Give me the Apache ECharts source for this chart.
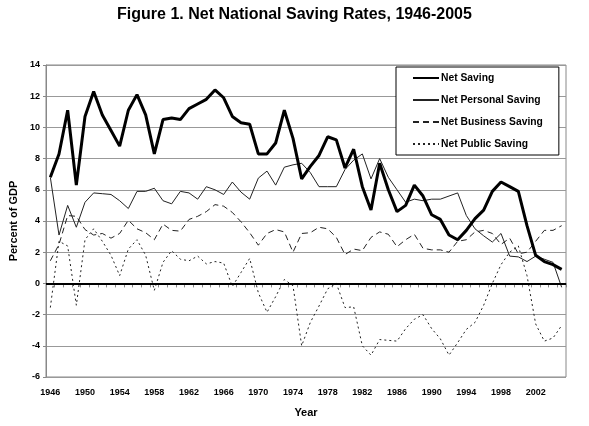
<!DOCTYPE html>
<html>
<head>
<meta charset="utf-8">
<script src="https://cdn.jsdelivr.net/npm/echarts@6/dist/echarts.min.js"></script>
<style>html,body{margin:0;padding:0;background:#fff;}#c{width:589px;height:426px;}</style>
</head>
<body>
<div id="c"></div>
<script>
const years = [];
for (let y = 1946; y <= 2005; y++) years.push(String(y));

const netSaving = [6.8,8.3,11.1,6.3,10.7,12.3,10.8,9.8,8.8,11.1,12.1,10.8,8.3,10.5,10.6,
  10.5,11.2,11.5,11.8,12.4,11.9,10.7,10.3,10.2,8.3,8.3,9.0,11.1,9.3,6.7,
  7.5,8.2,9.4,9.2,7.4,8.6,6.2,4.7,7.7,6.0,4.6,5.0,6.3,5.6,4.4,
  4.1,3.1,2.8,3.4,4.15,4.7,5.9,6.5,6.2,5.9,3.7,1.8,1.4,1.2,0.9];
const personal = [6.8,3.1,5.0,3.6,5.2,5.8,5.75,5.7,5.3,4.8,5.9,5.9,6.1,5.3,5.1,
  5.9,5.8,5.4,6.2,6.0,5.7,6.5,5.85,5.4,6.75,7.2,6.3,7.45,7.6,7.7,
  7.1,6.2,6.2,6.2,7.3,7.9,8.3,6.7,8.0,6.8,6.0,5.2,5.4,5.3,5.4,
  5.4,5.6,5.8,4.35,3.5,3.05,2.65,3.2,1.75,1.7,1.4,1.75,1.55,1.35,-0.25];
const business = [1.45,2.5,4.35,4.3,3.45,3.1,3.2,2.9,3.2,4.05,3.5,3.25,2.8,3.8,3.4,
  3.35,4.1,4.3,4.6,5.05,4.95,4.55,3.95,3.25,2.45,3.2,3.45,3.3,2.0,3.2,
  3.25,3.6,3.5,2.95,1.85,2.2,2.1,2.95,3.3,3.15,2.35,2.8,3.15,2.25,2.15,
  2.15,2.0,2.7,2.8,3.3,3.4,3.2,2.5,2.9,1.9,2.0,2.7,3.4,3.4,3.7];
const publicS = [-1.55,2.7,2.4,-1.4,2.8,3.5,2.7,1.8,0.5,2.2,2.8,1.8,-0.45,1.35,2.1,
  1.55,1.45,1.75,1.25,1.4,1.3,-0.2,0.7,1.6,-0.6,-1.85,-0.85,0.25,-0.15,-4.0,
  -2.5,-1.45,-0.35,0.0,-1.55,-1.5,-4.0,-4.6,-3.6,-3.65,-3.7,-2.9,-2.3,-2.0,-2.9,
  -3.55,-4.6,-3.8,-2.95,-2.5,-1.4,0.0,1.2,2.0,2.4,0.5,-2.6,-3.7,-3.5,-2.7];

const FONT = 'Liberation Sans, Arial, sans-serif';
const chart = echarts.init(document.getElementById('c'), null, {renderer: 'canvas'});
chart.setOption({
  animation: false,
  backgroundColor: '#fff',
  title: {
    text: 'Figure 1. Net National Saving Rates, 1946-2005',
    left: 'center', top: 2,
    textStyle: {fontFamily: FONT, fontWeight: 'bold', fontSize: 16, color: '#000'}
  },
  legend: {
    orient: 'vertical',
    left: 396, top: 67,
    padding: [6, 16, 6, 16],
    itemWidth: 26, itemHeight: 10, itemGap: 12,
    borderColor: '#000', borderWidth: 1,
    backgroundColor: '#fff',
    itemStyle: {opacity: 0},
    textStyle: {fontFamily: FONT, fontWeight: 'bold', fontSize: 10.3, color: '#000', padding: [0,0,0,-3]},
    data: ['Net Saving','Net Personal Saving','Net Business Saving','Net Public Saving']
  },
  grid: {left: 45, right: 23, top: 65, bottom: 49, show: true, borderColor: '#888', borderWidth: 1},
  xAxis: {
    type: 'category', data: years, boundaryGap: true,
    name: 'Year', nameLocation: 'middle', nameGap: 30,
    nameTextStyle: {fontFamily: FONT, fontWeight: 'bold', fontSize: 11, color: '#000'},
    axisLine: {lineStyle: {color: '#888'}},
    axisTick: {show: true, interval: 0, length: 4, lineStyle: {color: '#888'}},
    axisLabel: {interval: 3, fontFamily: FONT, fontWeight: 'bold', fontSize: 9, color: '#000', margin: 11},
    splitLine: {show: false}
  },
  yAxis: {
    type: 'value', min: -6, max: 14, interval: 2,
    name: 'Percent of GDP', nameLocation: 'middle', nameGap: 27, nameRotate: 90,
    nameTextStyle: {fontFamily: FONT, fontWeight: 'bold', fontSize: 11, color: '#000'},
    axisLine: {show: true, lineStyle: {color: '#888'}},
    axisTick: {show: true, length: 3, lineStyle: {color: '#888'}},
    axisLabel: {fontFamily: FONT, fontWeight: 'bold', fontSize: 9, color: '#000', margin: 6},
    splitLine: {show: true, lineStyle: {color: '#999', width: 1}}
  },
  series: [
    {name: 'Net Saving', type: 'line', data: netSaving, symbol: 'none', color: '#000',
     lineStyle: {color: '#000', width: 3}, z: 5,
     markLine: {silent: true, symbol: 'none', label: {show: false},
       lineStyle: {color: '#000', width: 2, type: 'solid'}, data: [{yAxis: 0}]}},
    {name: 'Net Personal Saving', type: 'line', data: personal, symbol: 'none', color: '#000',
     lineStyle: {color: '#222', width: 1}},
    {name: 'Net Business Saving', type: 'line', data: business, symbol: 'none', color: '#000',
     lineStyle: {color: '#222', width: 1, type: [6, 4]}},
    {name: 'Net Public Saving', type: 'line', data: publicS, symbol: 'none', color: '#000',
     lineStyle: {color: '#222', width: 1, type: [2, 3]}}
  ]
});
</script>
</body>
</html>
